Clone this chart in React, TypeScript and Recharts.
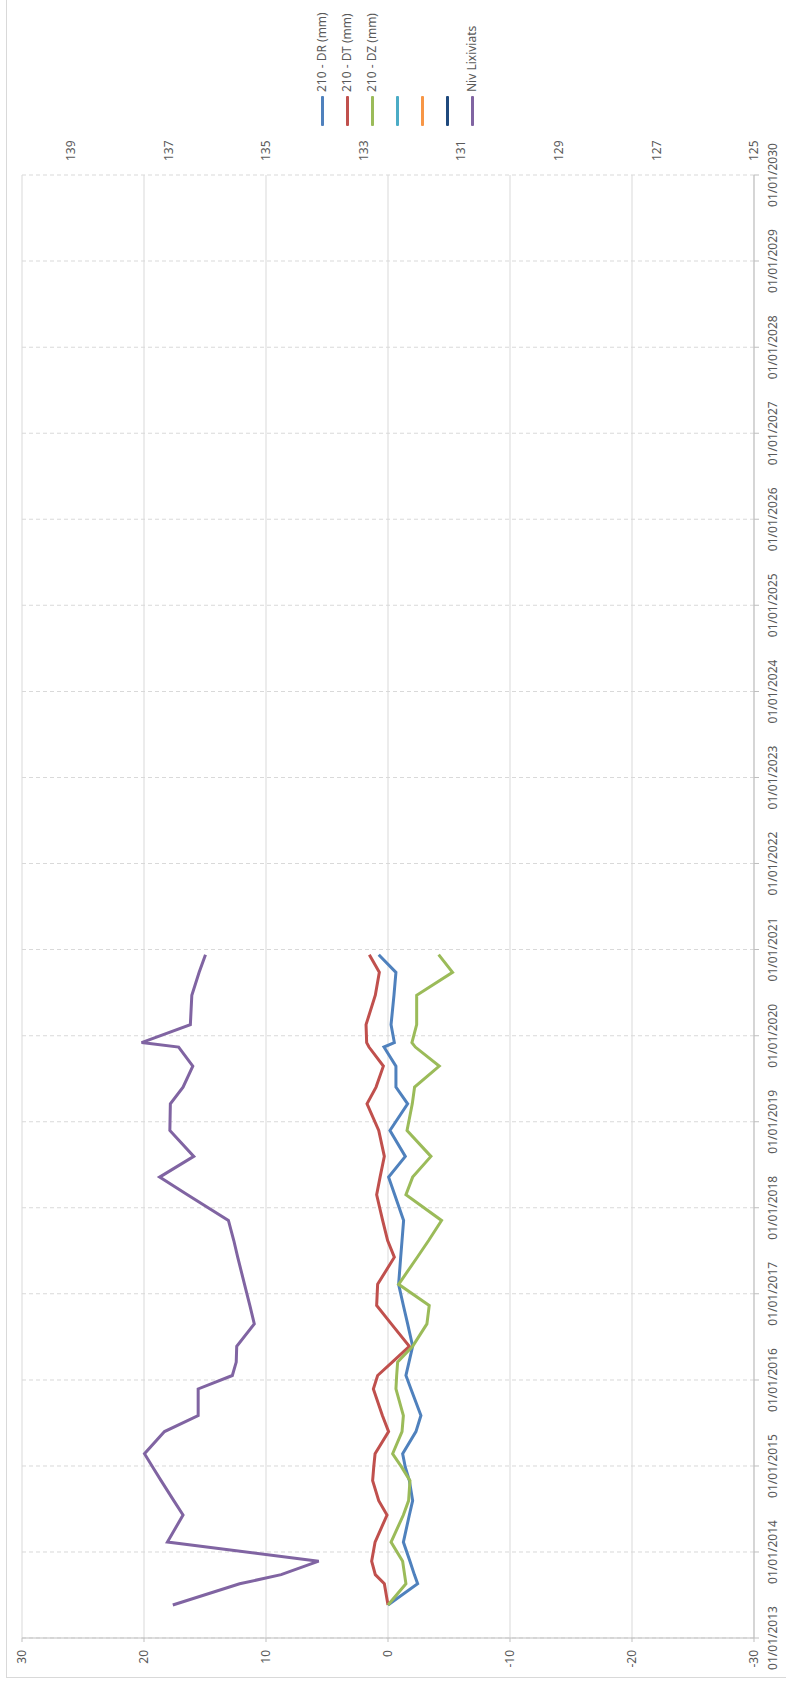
import { LineChart, Line, XAxis, YAxis, CartesianGrid } from 'recharts';

// Excel 2010 palette
const BLUE = '#4F81BD';
const RED = '#C0504D';
const GREEN = '#9BBB59';
const AQUA = '#4BACC6';
const ORANGE = '#F79646';
const NAVY = '#1F497D';
const PURPLE = '#8064A2';

const dates = [
  '2013-05-21', '2013-08-19', '2013-09-27', '2013-11-23', '2014-02-12', '2014-06-07',
  '2014-08-07', '2014-10-31', '2014-12-27', '2015-02-22', '2015-05-27', '2015-08-03',
  '2015-11-24', '2016-01-20', '2016-03-17', '2016-05-23', '2016-08-26', '2016-11-12',
  '2017-02-10', '2017-06-05', '2017-08-15', '2017-11-08', '2018-02-25', '2018-05-11',
  '2018-08-07', '2018-11-25', '2019-03-18', '2019-05-28', '2019-08-25', '2019-11-14',
  '2019-12-03', '2020-02-17', '2020-06-21', '2020-09-26', '2020-12-10',
];

const dr = [
  0, -2.43, -2.16, -1.8, -1.26, -1.75, -2.02, -1.75, -1.42, -1.2, -2.29, -2.7,
  -1.88, -1.47, -1.72, -2.02, -1.61, -1.26, -0.87, -1.04, -1.15, -1.28, -0.55, -0.05,
  -1.42, -0.16, -1.61, -0.65, -0.65, 0.33, -0.52, -0.25, -0.49, -0.65, 0.76,
];

const dt = [
  0, 0.3, 1.04, 1.34, 1.06, 0.08, 0.76, 1.26, 1.17, 1.06, -0.05, 0.46,
  1.2, 0.85, -0.35, -1.75, -0.27, 0.93, 0.85, -0.52, 0.03, 0.44, 0.93, 0.65,
  0.3, 0.76, 1.72, 0.98, 0.38, 1.56, 1.75, 1.8, 1.04, 0.71, 1.53,
];

const dz = [
  0, -1.47, -1.36, -1.2, -0.25, -1.26, -1.69, -1.8, -1.12, -0.38, -1.15, -1.26,
  -0.65, -0.71, -0.79, -2.02, -3.19, -3.38, -0.87, -2.4, -3.33, -4.39, -1.47, -2.02,
  -3.52, -1.56, -1.99, -2.18, -4.2, -2.24, -1.96, -2.35, -2.35, -5.29, -4.15,
];

const niv = [
  136.91, 135.54, 134.69, 133.92, 137.02, 136.7, 136.89, 137.15, 137.32, 137.49, 137.08, 136.39,
  136.39, 135.69, 135.61, 135.6, 135.24, 135.33, 135.44, 135.58, 135.66, 135.77, 136.61, 137.18,
  136.48, 136.97, 136.96, 136.7, 136.5, 136.79, 137.55, 136.55, 136.52, 136.37, 136.24,
];

const yearTicks = [
  2013, 2014, 2015, 2016, 2017, 2018, 2019, 2020, 2021,
  2022, 2023, 2024, 2025, 2026, 2027, 2028, 2029, 2030,
];
const leftTicks = [-30, -20, -10, 0, 10, 20, 30];
const rightTicks = [125, 127, 129, 131, 133, 135, 137, 139];

const legendItems = [
  { name: '210 - DR (mm)', color: BLUE },
  { name: '210 - DT (mm)', color: RED },
  { name: '210 - DZ (mm)', color: GREEN },
  { name: '', color: AQUA },
  { name: '', color: ORANGE },
  { name: '', color: NAVY },
  { name: 'Niv Lixiviats', color: PURPLE },
];

const toTime = (s: string) => {
  const [y, m, d] = s.split('-').map(Number);
  return Date.UTC(y, m - 1, d);
};

const rows = dates.map((d, i) => ({
  t: toTime(d),
  dr: dr[i],
  dt: dt[i],
  dz: dz[i],
  niv: niv[i],
}));

const xTicks = yearTicks.map(y => Date.UTC(y, 0, 1));

const fmtDate = (t: number) => {
  const d = new Date(t);
  const dd = String(d.getUTCDate()).padStart(2, '0');
  const mm = String(d.getUTCMonth() + 1).padStart(2, '0');
  return `${dd}/${mm}/${d.getUTCFullYear()}`;
};

const W = 1684;
const H = 786;
const FONT = '"Noto Sans", "Open Sans", sans-serif';
const TEXT = '#595959';
const GRID = '#D9D9D9';
const AXIS = '#BFBFBF';

export default function App() {
  const tick = { fontSize: 12, fill: TEXT };
  return (
    <div
      style={{
        position: 'absolute',
        left: 0,
        top: 0,
        width: H,
        height: W,
        overflow: 'hidden',
        background: '#fff',
        fontFamily: FONT,
      }}
    >
      {/* chart is drawn landscape, then turned a quarter to the left */}
      <div
        style={{
          position: 'absolute',
          left: 0,
          top: 0,
          width: W,
          height: H,
          transformOrigin: '0 0',
          transform: `translateY(${W}px) rotate(-90deg)`,
        }}
      >
        <div
          style={{
            position: 'absolute',
            left: 6,
            top: 6,
            right: -10,
            bottom: -10,
            borderLeft: `1px solid ${GRID}`,
            borderTop: `1px solid ${GRID}`,
          }}
        />
        <LineChart
          width={W}
          height={H}
          data={rows}
          margin={{ top: 22, right: 0, bottom: 0, left: 0 }}
        >
          <CartesianGrid yAxisId="left" vertical={false} stroke={GRID} />
          <CartesianGrid yAxisId="left" horizontal={false} stroke={GRID} strokeDasharray="4 3" />
          <XAxis
            dataKey="t"
            type="number"
            domain={[xTicks[0], xTicks[xTicks.length - 1]]}
            ticks={xTicks}
            tickFormatter={fmtDate}
            height={32}
            stroke={AXIS}
            tickSize={5}
            tickMargin={9}
            tick={tick}
            interval={0}
          />
          <YAxis
            yAxisId="left"
            domain={[-30, 30]}
            ticks={leftTicks}
            width={46}
            stroke={AXIS}
            tickSize={4}
            tickMargin={8}
            tick={tick}
            interval={0}
          />
          <YAxis
            yAxisId="right"
            orientation="right"
            domain={[125, 140]}
            ticks={rightTicks}
            width={175}
            axisLine={false}
            tickLine={false}
            tickSize={6}
            tickMargin={8}
            tick={{ ...tick, textAnchor: 'start' }}
            interval={0}
          />
          <Line yAxisId="left" type="linear" dataKey="dr" stroke={BLUE} strokeWidth={3} dot={false} isAnimationActive={false} />
          <Line yAxisId="left" type="linear" dataKey="dt" stroke={RED} strokeWidth={3} dot={false} isAnimationActive={false} />
          <Line yAxisId="left" type="linear" dataKey="dz" stroke={GREEN} strokeWidth={3} dot={false} isAnimationActive={false} />
          <Line yAxisId="right" type="linear" dataKey="niv" stroke={PURPLE} strokeWidth={3} dot={false} isAnimationActive={false} />
        </LineChart>
        {legendItems.map((it, i) => (
          <div
            key={i}
            style={{
              position: 'absolute',
              left: 1558,
              top: 322 + 25 * i - 7,
              height: 14,
              display: 'flex',
              alignItems: 'center',
              whiteSpace: 'nowrap',
            }}
          >
            <span style={{ display: 'inline-block', width: 30, height: 3, background: it.color, borderRadius: 1 }} />
            <span style={{ marginLeft: 4, fontSize: 12, color: TEXT, lineHeight: '14px' }}>{it.name}</span>
          </div>
        ))}
      </div>
    </div>
  );
}
